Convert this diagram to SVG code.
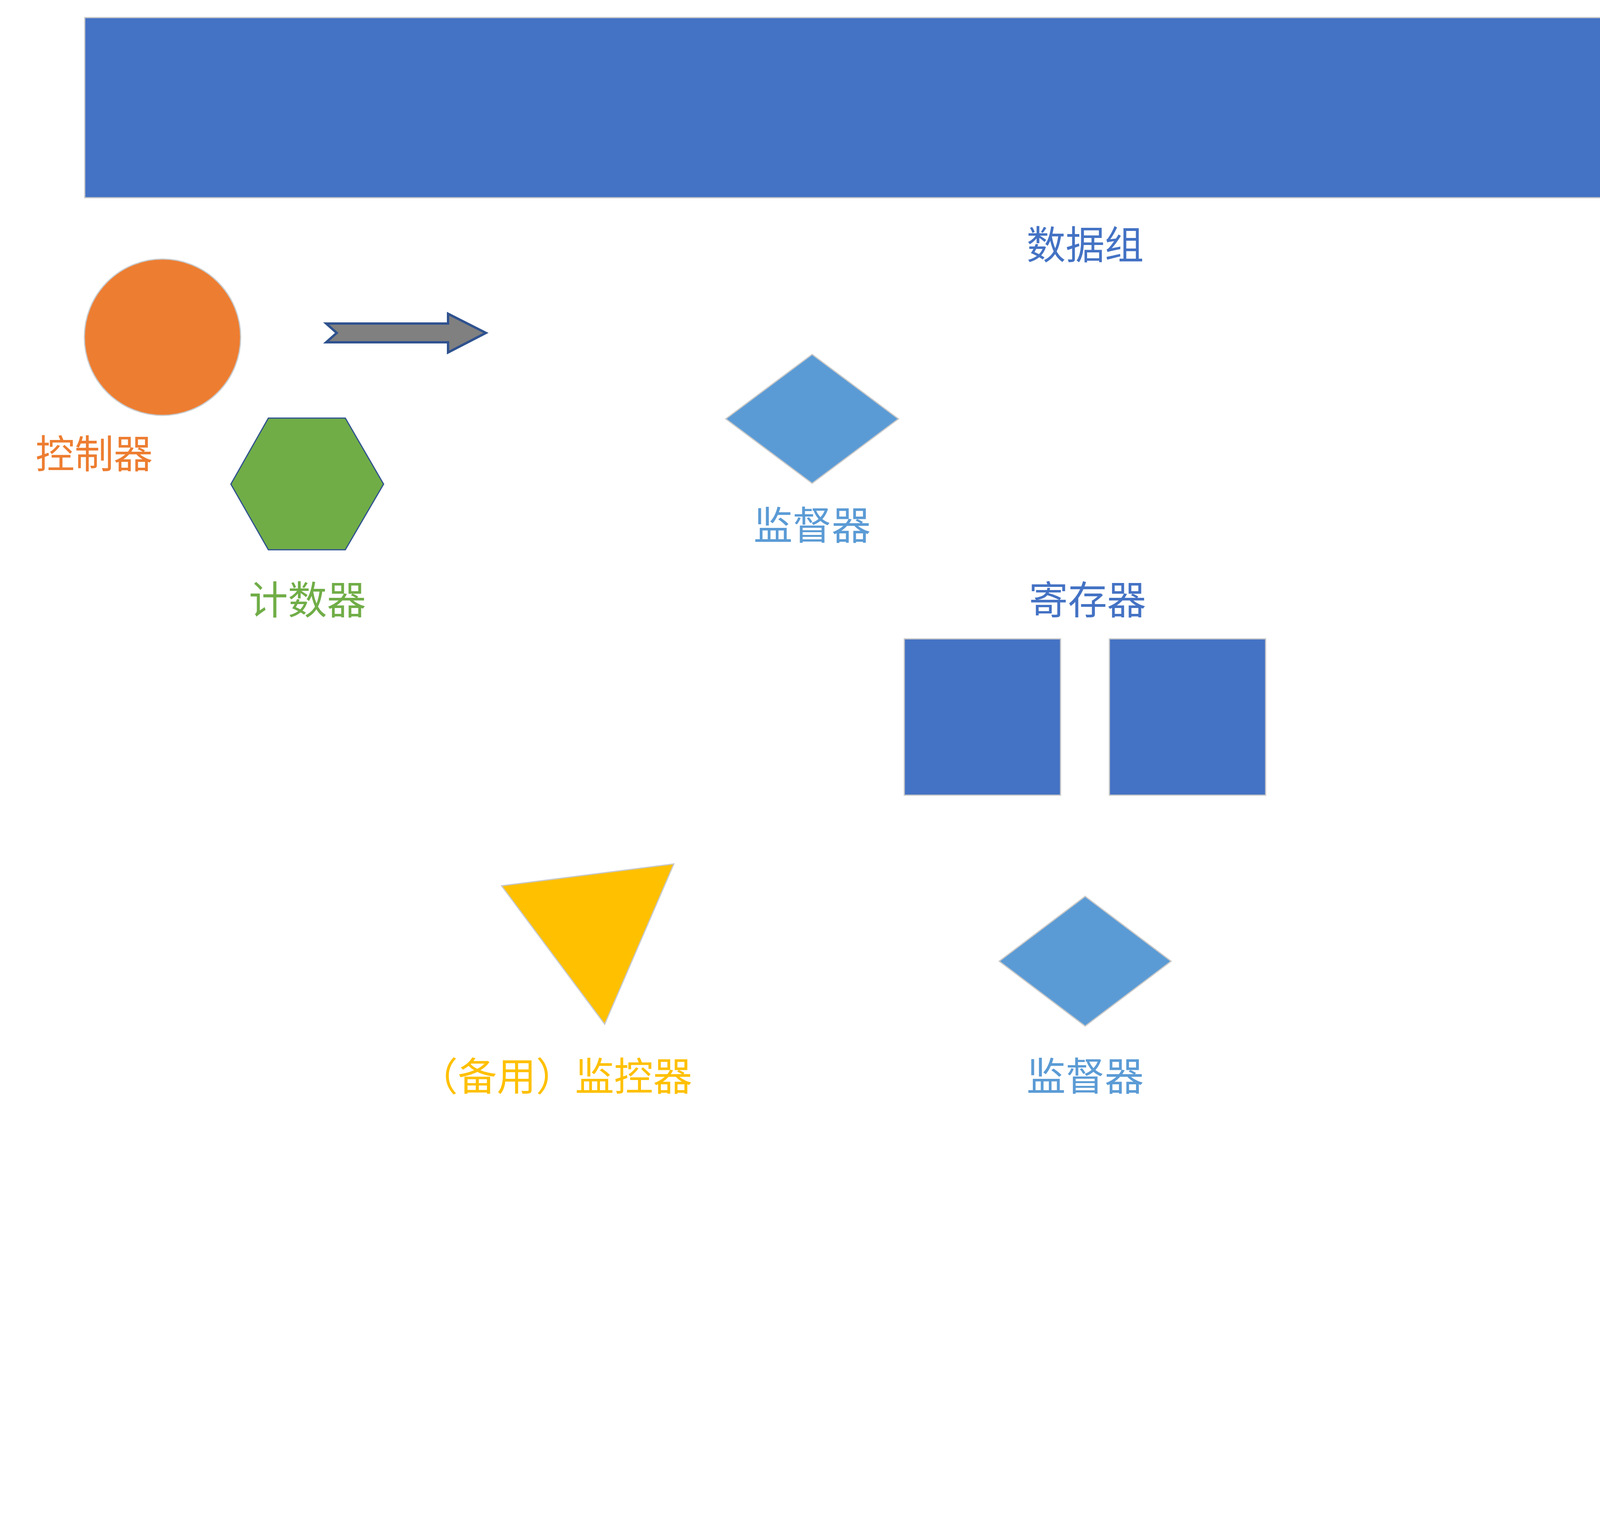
<svg xmlns="http://www.w3.org/2000/svg" width="5802" height="3931" viewBox="0 0 5802 3931">
<style>
text{font-family:"Noto Sans CJK SC","Microsoft YaHei",sans-serif;font-size:100px;text-anchor:middle}
.sh{stroke:#C9C9C9;stroke-width:3}
.blue{fill:#4472C4}
.org{fill:#ED7D31}
.grn{fill:#70AD47}
.lb{fill:#5B9BD5}
.yel{fill:#FFC000}
.arrow{fill:#808080;stroke:#2F528F;stroke-width:6;stroke-linejoin:miter}
</style>
<rect width="5802" height="3931" fill="#FFFFFF"/>
<g id="data-group">
<rect class="blue sh" x="217" y="45" width="5122" height="461"/>
<text class="blue" x="2778" y="663">数据组</text>
</g>
<g id="controller-left">
<circle class="org sh" cx="416" cy="863" r="200"/>
<text class="org" x="241" y="1198">控制器</text>
</g>
<g id="controller-right">
<circle class="org sh" cx="5138" cy="863" r="200"/>
<text class="org" x="5306" y="1198">控制器</text>
</g>
<g id="counter-left">
<polygon class="grn" stroke="#2F528F" stroke-width="3" points="687,1070 884,1070 982,1239 884,1407 687,1407 591,1239"/>
<text class="grn" x="787" y="1572">计数器</text>
</g>
<g id="counter-right">
<polygon class="grn sh" points="4671,1070 4867,1070 4964,1239 4867,1407 4671,1407 4574,1239"/>
<text class="grn" x="4770" y="1572">计数器</text>
</g>
<g id="supervisor-top">
<polygon class="lb sh" points="2079,907 2300,1072 2079,1237 1858,1072"/>
<text class="lb" x="2079" y="1381">监督器</text>
</g>
<g id="register">
<text class="blue" x="2784" y="1572">寄存器</text>
<rect class="blue sh" x="2315" y="1635" width="400" height="400"/>
<rect class="blue sh" x="2840" y="1635" width="400" height="400"/>
</g>
<g id="backup-monitor">
<polygon class="yel sh" points="1284,2267 1725,2211 1548,2621"/>
<text class="yel" x="1422" y="2791">（备用）监控器</text>
</g>
<g id="supervisor-bottom">
<polygon class="lb sh" points="2778,2294 2998,2460 2778,2626 2558,2460"/>
<text class="lb" x="2778" y="2791">监督器</text>
</g>
<g id="monitor">
<polygon class="yel sh" points="5120,3329 5522,3525 5157,3775"/>
<text class="yel" x="5561" y="3815">监控器</text>
</g>
<g id="connectors">
<polygon class="arrow" points="835,828 1147,828 1147,803 1244,852 1147,902 1147,876 835,876 862,852"/>
<polygon class="arrow" points="4741,826 4402,826 4402,798 4305,852 4402,905 4402,877 4741,877 4714,852"/>
</g>
</svg>
